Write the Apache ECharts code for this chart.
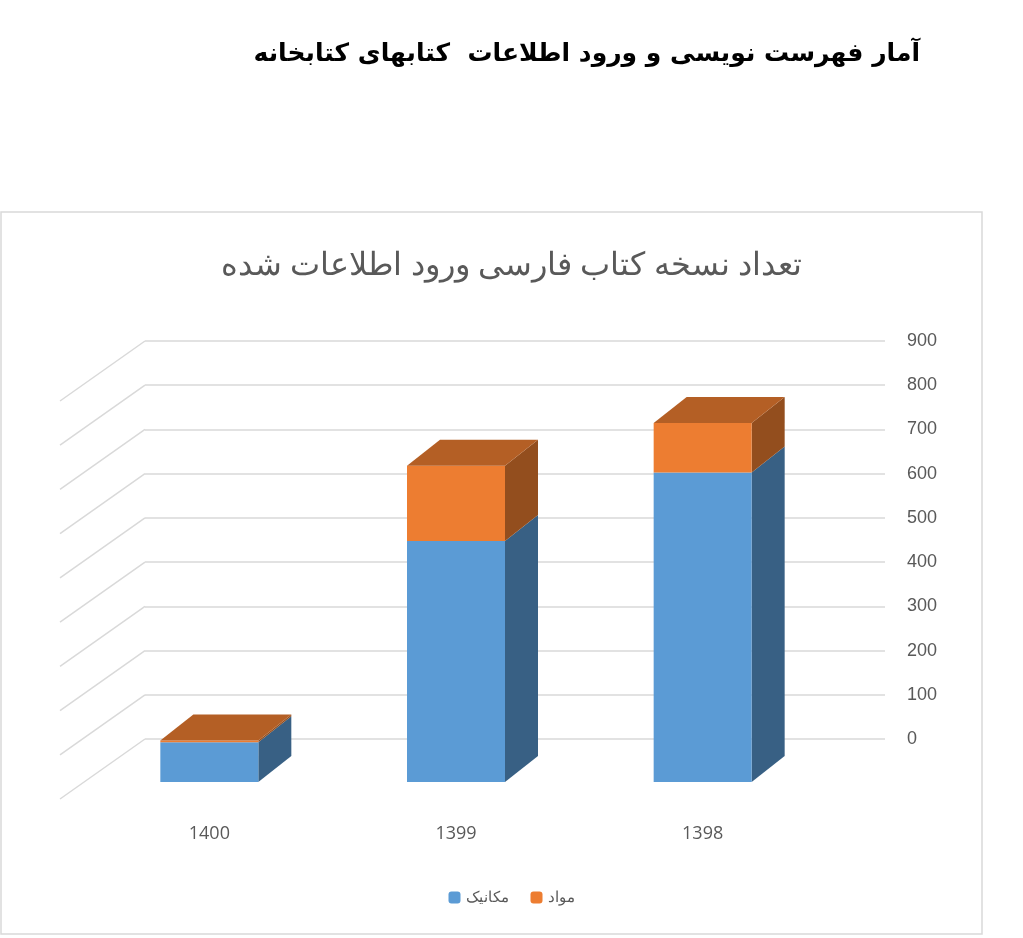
<!DOCTYPE html><html><head><meta charset="utf-8"><script src="https://cdn.jsdelivr.net/npm/echarts@6/dist/echarts.min.js"></script>
<style>body{margin:0;background:#fff}#c{width:1023px;height:938px}</style></head><body><div id="c"></div><script>
const categories=['1400','1399','1398'];
const mechanic=[90,545,700];
const materials=[4,170,112];
const yTicks=[0,100,200,300,400,500,600,700,800,900];
const FX=-59,FY=43,DX=33,DY=-26,BW=98;
function shade(c,f){const n=parseInt(c.slice(1),16);const r=(n>>16)*f,g=((n>>8)&255)*f,b=(n&255)*f;return 'rgb('+[r,g,b].map(Math.round).join(',')+')';}
function barSeries(name,color,base,vals,isTop){
 return {type:'custom',name:name,itemStyle:{color:color},z:5,
 data:vals.map((v,i)=>[i,base[i],base[i]+v]),
 renderItem:function(p,api){
  const i=api.value(0),b=api.coord([i,api.value(1)]),t=api.coord([i,api.value(2)]);
  const x0=b[0]+FX-BW/2,x1=x0+BW,yb=b[1]+FY,yt=t[1]+FY;
  const ch=[{type:'polygon',shape:{points:[[x1,yb],[x1+DX,yb+DY],[x1+DX,yt+DY],[x1,yt]]},style:{fill:shade(color,0.62)}},
   {type:'rect',shape:{x:x0,y:yt,width:BW,height:yb-yt},style:{fill:color}}];
  if(isTop)ch.push({type:'polygon',shape:{points:[[x0,yt],[x1,yt],[x1+DX,yt+DY],[x0+DX,yt+DY]]},style:{fill:shade(color,0.76)}});
  else ch.push({type:'text',style:{text:categories[i],x:x0+BW/2,y:b[1]+FY+52,fill:'#595959',font:'18px "Open Sans"',align:'center',verticalAlign:'middle'}});
  return {type:'group',children:ch};
 }};
}
const chart=echarts.init(document.getElementById('c'));
chart.setOption({
 animation:false,
 graphic:[{type:'rect',shape:{x:1,y:212,width:981,height:722},style:{fill:'none',stroke:'#d9d9d9',lineWidth:1.5}},
  {type:'text',right:103,top:42,style:{text:'آمار فهرست نویسی و ورود اطلاعات  کتابهای کتابخانه',font:'bold 25px "DejaVu Sans"',fill:'#000'}}],
 title:{text:'تعداد نسخه کتاب فارسی ورود اطلاعات شده',left:'center',top:245,textStyle:{fontSize:32,fontWeight:'normal',color:'#595959',fontFamily:'"Noto Sans"'}},
 legend:{bottom:28,left:'center',itemWidth:12,itemHeight:12,itemGap:22,textStyle:{fontSize:15,color:'#595959'},data:['مکانیک','مواد']},
 grid:{left:145,right:138,top:341,bottom:938-739},
 xAxis:{type:'category',data:categories,axisLine:{show:false},axisTick:{show:false},axisLabel:{show:false}},
 yAxis:{type:'value',position:'right',min:0,max:900,interval:100,axisLabel:{fontSize:18,color:'#595959',margin:22},
  splitLine:{lineStyle:{color:'#d9d9d9',width:1.5}},axisLine:{show:false}},
 series:[
  {type:'custom',silent:true,z:1,data:yTicks.map(v=>[0,v]),renderItem:function(p,api){
    const c=api.coord([0,api.value(1)]);const x=p.coordSys.x;
    return {type:'line',shape:{x1:x,y1:c[1],x2:x-85,y2:c[1]+60},style:{stroke:'#d9d9d9',lineWidth:1.5}};}},
  barSeries('مکانیک','#5B9BD5',[0,0,0],mechanic,false),
  barSeries('مواد','#ED7D31',mechanic,materials,true)
 ]
});
</script></body></html>
